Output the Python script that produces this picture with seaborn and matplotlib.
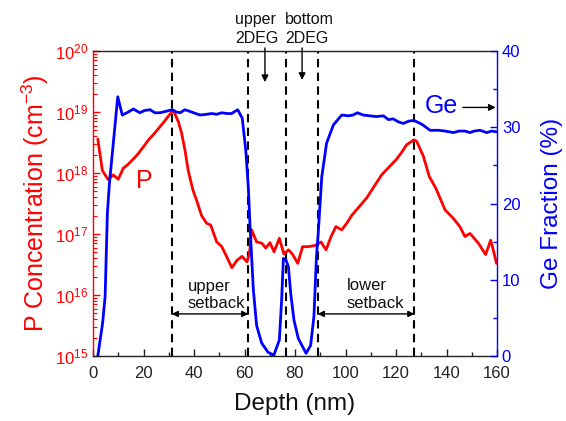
import numpy as np
import pandas as pd
import matplotlib
matplotlib.use("Agg")
import matplotlib.pyplot as plt
import matplotlib.ticker as mticker
import matplotlib.transforms as mtrans
import seaborn as sns

# Phosphorus SIMS profile (depth in nm, concentration in cm^-3)
p_depth = [1.9, 3.7, 6.0, 8.0, 10.0, 12.0, 14.0, 16.0, 18.0, 20.0, 22.0, 24.0, 26.0,
           28.0, 30.0, 31.8, 33.8, 35.1, 36.4, 37.7, 39.6, 41.0, 43.0, 45.0, 46.6,
           49.0, 51.0, 53.0, 55.0, 57.0, 59.0, 61.0, 62.0, 62.8, 64.8, 66.8, 68.4,
           70.1, 71.7, 73.8, 75.6, 77.4, 79.1, 81.1, 83.0, 85.3, 88.0, 90.3, 92.3,
           94.3, 96.2, 98.5, 100.5, 102.4, 105.4, 108.4, 111.3, 114.3, 117.3, 120.3,
           122.3, 124.2, 127.1, 128.2, 130.8, 133.2, 135.8, 139.4, 142.7, 145.3,
           147.3, 149.3, 152.6, 155.5, 157.5, 158.5, 159.8]
p_conc = [3.6e18, 1.1e18, 7.8e17, 9.3e17, 7.9e17, 1.2e18, 1.4e18, 1.7e18, 2.1e18,
          2.7e18, 3.5e18, 4.3e18, 5.4e18, 6.8e18, 8.7e18, 1.07e19, 6.9e18, 4.5e18,
          2.4e18, 1.1e18, 5.2e17, 3.6e17, 2.0e17, 1.5e17, 1.4e17, 7.4e16, 6.2e16,
          4.2e16, 2.8e16, 3.7e16, 4.3e16, 3.5e16, 4.9e16, 1.17e17, 7.4e16, 7.1e16,
          5.9e16, 7.2e16, 5.1e16, 8.5e16, 4.7e16, 5.5e16, 4.6e16, 3.3e16, 6.2e16,
          6.2e16, 6.5e16, 7.4e16, 5.5e16, 9.1e16, 1.32e17, 1.17e17, 1.5e17, 2.0e17,
          2.8e17, 3.9e17, 6.0e17, 9.3e17, 1.26e18, 1.7e18, 2.2e18, 2.9e18, 3.5e18,
          3.3e18, 1.9e18, 8.7e17, 5.6e17, 2.5e17, 1.8e17, 1.32e17, 9.1e16, 1.02e17,
          7.1e16, 4.6e16, 7.9e16, 5.5e16, 3.3e16]

# Germanium fraction profile (depth in nm, Ge in %)
ge_depth = [1.9, 3.8, 4.8, 5.7, 6.5, 9.8, 11.6, 14.0, 16.0, 18.5, 20.5, 22.6, 24.5,
            26.5, 29.0, 31.4, 33.0, 34.5, 36.4, 39.0, 42.4, 45.0, 47.0, 49.0, 51.0,
            53.0, 54.9, 57.3, 59.1, 60.5, 61.5, 62.2, 63.5, 64.8, 66.8, 69.3, 71.6,
            73.8, 74.7, 75.4, 76.4, 77.4, 78.3, 79.6, 81.3, 84.4, 86.2, 87.5, 88.5,
            89.2, 90.6, 92.5, 95.2, 98.5, 101.1, 103.0, 104.7, 107.0, 109.5, 112.3,
            115.0, 117.0, 118.9, 121.0, 122.9, 125.0, 127.1, 130.2, 133.5, 136.8,
            139.5, 142.7, 145.0, 147.3, 149.3, 151.0, 153.3, 155.9, 158.0, 159.8]
ge_frac = [0.0, 4.3, 7.8, 18.8, 22.6, 34.0, 31.6, 32.0, 32.4, 31.9, 32.2, 32.3, 31.9,
           31.9, 32.1, 32.3, 32.0, 31.9, 32.3, 32.0, 31.6, 31.7, 31.8, 31.7, 31.9,
           31.8, 31.8, 32.3, 31.2, 27.0, 22.2, 17.0, 8.7, 4.0, 1.7, 0.5, 0.1,
           2.1, 7.3, 12.8, 12.6, 11.7, 8.2, 4.7, 2.3, 0.35, 1.4, 5.2, 13.0,
           16.1, 23.5, 27.9, 30.3, 31.6, 31.5, 31.6, 31.9, 31.6, 31.5, 31.4,
           31.5, 31.0, 31.1, 30.7, 30.5, 30.8, 30.9, 30.4, 29.6, 29.6,
           29.5, 29.3, 29.5, 29.5, 29.3, 29.5, 29.6, 29.3, 29.5, 29.4]

# Layer boundaries (nm)
boundaries = [31.2, 61.5, 76.4, 89.0, 127.3]

depth_ticks = [0, 20, 40, 60, 80, 100, 120, 140, 160]
ge_ticks = [0, 10, 20, 30, 40]

p_df = pd.DataFrame({"depth": p_depth, "P": p_conc})
ge_df = pd.DataFrame({"depth": ge_depth, "Ge": ge_frac})

sns.set_theme(style="ticks")
plt.rcParams["font.family"] = ["Liberation Sans", "DejaVu Sans"]
plt.rcParams["mathtext.fontset"] = "custom"
plt.rcParams["mathtext.rm"] = "Liberation Sans"
plt.rcParams["mathtext.default"] = "regular"

RED = "#ff0000"
BLUE = "#0000ff"

fig = plt.figure(figsize=(5.66, 4.21), dpi=100)
ax = fig.add_axes([93 / 566, 1 - 356 / 421, 404 / 566, 305 / 421])
ax2 = ax.twinx()

sns.lineplot(data=p_df, x="depth", y="P", ax=ax, color=RED, linewidth=2.0)
sns.lineplot(data=ge_df, x="depth", y="Ge", ax=ax2, color=BLUE, linewidth=2.0)

ax.set_yscale("log")
ax.set_ylim(1e15, 1e20)
ax.set_xlim(0, 160)
ax2.set_ylim(0, 40)

ax.set_xticks(depth_ticks)
ax.xaxis.set_minor_locator(mticker.MultipleLocator(10))
ax.yaxis.set_major_locator(mticker.LogLocator(base=10, numticks=10))
ax.yaxis.set_minor_locator(mticker.LogLocator(base=10, subs=np.arange(2, 10), numticks=20))
ax.yaxis.set_minor_formatter(mticker.NullFormatter())
ax2.set_yticks(ge_ticks)
ax2.yaxis.set_minor_locator(mticker.MultipleLocator(5))

ax.tick_params(axis="x", which="both", direction="in", colors="#222222",
               labelsize=12, top=False, pad=7)
ax.tick_params(axis="x", which="major", length=5, width=1)
ax.tick_params(axis="x", which="minor", length=3, width=1)
ax.tick_params(axis="y", which="both", direction="in", colors=RED, labelsize=12)
ax.tick_params(axis="y", which="major", length=5, width=1)
ax.tick_params(axis="y", which="minor", length=3, width=0.8)
ax2.tick_params(axis="y", which="both", direction="in", colors=BLUE, labelsize=12)
ax2.tick_params(axis="y", which="major", length=5, width=1)
ax2.tick_params(axis="y", which="minor", length=3, width=1)

for name in ["top", "bottom"]:
    ax.spines[name].set_color("#222222")
    ax.spines[name].set_linewidth(1.0)
ax.spines["left"].set_color(RED)
ax.spines["left"].set_linewidth(1.0)
ax.spines["right"].set_visible(False)
for name in ["top", "bottom", "left"]:
    ax2.spines[name].set_visible(False)
ax2.spines["right"].set_color(BLUE)
ax2.spines["right"].set_linewidth(1.0)

ax.set_xlabel("Depth (nm)", fontsize=17.5, color="#111111", labelpad=9)
ax.set_ylabel("P Concentration (cm$^{-3}$)", fontsize=18, color=RED, labelpad=3)
ax2.set_ylabel("Ge Fraction (%)", fontsize=17.5, color=BLUE, labelpad=15)

# layer boundaries
for b in boundaries:
    ax.axvline(b, color="black", linestyle=(0, (4, 2.6)), linewidth=1.5, zorder=1)

trans = mtrans.blended_transform_factory(ax.transData, ax.transAxes)

# 2DEG labels above the plot
ax.text(56.2, 1.018, "upper\n2DEG", transform=trans, ha="left", va="bottom",
        fontsize=11.5, color="#111111", linespacing=1.3)
ax.text(76.0, 1.018, "bottom\n2DEG", transform=trans, ha="left", va="bottom",
        fontsize=11.5, color="#111111", linespacing=1.3)
for x, y_end in [(68.1, 0.898), (82.8, 0.905)]:
    ax.annotate("", xy=(x, y_end), xytext=(x, 1.01), xycoords=trans, textcoords=trans,
                arrowprops=dict(arrowstyle="-|>", color="black", lw=1.0,
                                mutation_scale=10, shrinkA=0, shrinkB=0),
                annotation_clip=False)

# setback markers
ax.text(37.6, 0.20, "upper\nsetback", transform=trans, ha="left", va="center",
        fontsize=12, color="#111111", linespacing=1.25)
ax.text(100.6, 0.20, "lower\nsetback", transform=trans, ha="left", va="center",
        fontsize=12, color="#111111", linespacing=1.25)
for x0, x1 in [(boundaries[0], boundaries[1]), (boundaries[3], boundaries[4])]:
    ax.annotate("", xy=(x1, 0.138), xytext=(x0, 0.138), xycoords=trans, textcoords=trans,
                arrowprops=dict(arrowstyle="<|-|>", color="black", lw=1.0,
                                mutation_scale=9, shrinkA=0, shrinkB=0))

# curve labels
ax.text(20.5, 7.5e17, "P", fontsize=18, color=RED, ha="center", va="center")
ax2.text(138.0, 32.8, "Ge", fontsize=18, color=BLUE, ha="center", va="center")
ax2.annotate("", xy=(159.5, 32.6), xytext=(146.5, 32.6),
             arrowprops=dict(arrowstyle="-|>", color="black", lw=1.0,
                             mutation_scale=10, shrinkA=0, shrinkB=0))

fig.savefig("out.png", dpi=100)
